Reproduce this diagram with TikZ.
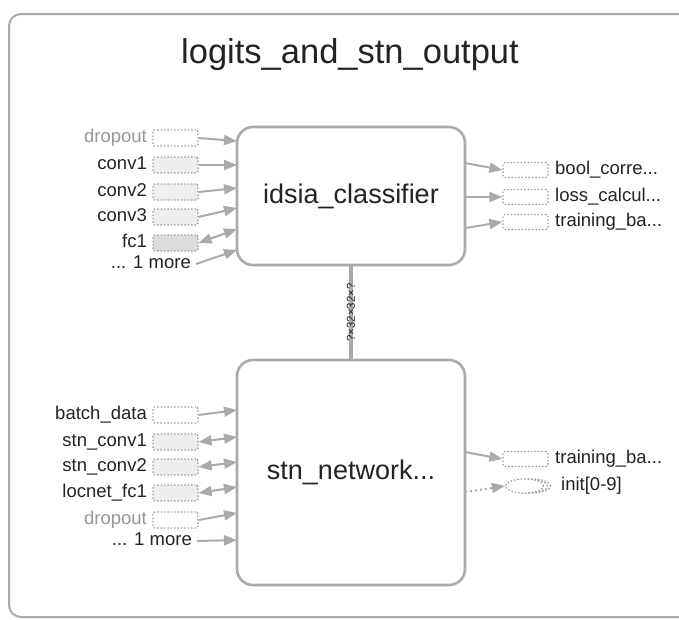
\documentclass[tikz,border=0pt]{standalone}
\usepackage{fontspec}
\setmainfont{Liberation Sans}
\usetikzlibrary{arrows.meta,shapes.geometric}
\definecolor{edgec}{RGB}{170,170,170}
\definecolor{txt}{RGB}{35,35,35}
\definecolor{faint}{RGB}{150,150,150}
\definecolor{fillA}{RGB}{238,238,238}
\definecolor{fillB}{RGB}{220,220,220}
\definecolor{dotc}{RGB}{155,155,155}
\begin{document}
\begin{tikzpicture}[x=1pt,y=-1pt,
  frame/.style={draw=edgec,line width=2pt,rounded corners=12pt},
  bigbox/.style={draw=edgec,line width=2.6pt,rounded corners=16pt,fill=white,
    font=\fontsize{27}{30}\selectfont,text=txt,minimum width=228pt,inner sep=0pt},
  ph/.style={draw=dotc,line width=1.2pt,dash pattern=on 1.5pt off 1.9pt,
    rounded corners=2pt,minimum width=45pt,minimum height=16pt,inner sep=0pt},
  serie/.style={ellipse,draw=dotc,line width=1.2pt,dash pattern=on 1.5pt off 1.9pt,
    fill=white,minimum width=38pt,minimum height=14pt,inner sep=0pt},
  lab/.style={font=\fontsize{18.5}{21}\selectfont,text=txt,inner sep=0pt,
    text height=13.5pt,text depth=4pt},
  flow/.style={draw=edgec,line width=2pt,-{Triangle[length=13pt,width=10pt]}},
  both/.style={draw=edgec,line width=2pt,{Triangle[length=13pt,width=10pt]}-{Triangle[length=13pt,width=10pt]}},
  dflow/.style={flow,dash pattern=on 2pt off 3pt},
]
\useasboundingbox (0,0) rectangle (679,619);
\clip (0,0) rectangle (679,619);
\draw[frame] (9,14) rectangle (700,617);
\node[font=\fontsize{34.5}{40}\selectfont,text=txt] (title) at (350,55) {logits\_and\_stn\_output};

% main boxes
\node[bigbox,minimum height=138pt] (idsia) at (351,196) {idsia\_classifier};
\node[bigbox,minimum height=225pt] (stn) at (351,472.5) {stn\_network...};
\draw[edgec,line width=3.2pt] (idsia.south) -- (stn.north)
  node[midway,rotate=90,font=\fontsize{11.5}{12}\selectfont,text=txt,inner sep=0pt] (shape) {?×32×32×?};

% idsia inputs
\node[ph] (p1) at (175.5,138) {};
\node[ph,fill=fillA] (p2) at (175.5,165) {};
\node[ph,fill=fillA] (p3) at (175.5,192) {};
\node[ph,fill=fillA] (p4) at (175.5,217) {};
\node[ph,fill=fillB] (p5) at (175.5,243) {};
\node[lab,anchor=east,text=faint] (l1) at (147,138) {dropout};
\node[lab,anchor=east] (l2) at (147,165) {conv1};
\node[lab,anchor=east] (l3) at (147,192) {conv2};
\node[lab,anchor=east] (l4) at (147,217) {conv3};
\node[lab,anchor=east] (l5) at (147,243) {fc1};
\node[lab,anchor=east] (l6) at (191,264) {... 1 more};
\coordinate (a1) at (237,141);
\coordinate (a2) at (237,165);
\coordinate (a3) at (237,188);
\coordinate (a4) at (237,208);
\coordinate (a5) at (237,229);
\coordinate (a6) at (237,250);
\draw[flow] (p1.east) -- (a1);
\draw[flow] (p2.east) -- (a2);
\draw[flow] (p3.east) -- (a3);
\draw[flow] (p4.east) -- (a4);
\draw[both] (p5.east) -- (a5);
\draw[flow] ([xshift=5pt]l6.east) -- (a6);

% idsia outputs
\coordinate (o1) at (465,163);
\coordinate (o2) at (465,197);
\coordinate (o3) at (465,228);
\node[ph,minimum height=15pt] (q1) at (525.5,170) {};
\node[ph,minimum height=15pt] (q2) at (525.5,197) {};
\node[ph,minimum height=15pt] (q3) at (525.5,222) {};
\node[lab,anchor=west] (r1) at (555,170) {bool\_corre...};
\node[lab,anchor=west] (r2) at (555,197) {loss\_calcul...};
\node[lab,anchor=west] (r3) at (555,222) {training\_ba...};
\draw[flow] (o1) -- (q1.west);
\draw[flow] (o2) -- (q2.west);
\draw[flow] (o3) -- (q3.west);

% stn inputs
\node[ph] (s1) at (175.5,415) {};
\node[ph,fill=fillA] (s2) at (175.5,442) {};
\node[ph,fill=fillA] (s3) at (175.5,467) {};
\node[ph,fill=fillA] (s4) at (175.5,493) {};
\node[ph] (s5) at (175.5,520) {};
\node[lab,anchor=east] (m1) at (147,415) {batch\_data};
\node[lab,anchor=east] (m2) at (147,442) {stn\_conv1};
\node[lab,anchor=east] (m3) at (147,467) {stn\_conv2};
\node[lab,anchor=east] (m4) at (147,493) {locnet\_fc1};
\node[lab,anchor=east,text=faint] (m5) at (147,520) {dropout};
\node[lab,anchor=east] (m6) at (192,541) {... 1 more};
\coordinate (b1) at (237,410);
\coordinate (b2) at (237,437);
\coordinate (b3) at (237,462);
\coordinate (b4) at (237,487);
\coordinate (b5) at (237,513);
\coordinate (b6) at (237,540);
\draw[flow] (s1.east) -- (b1);
\draw[both] (s2.east) -- (b2);
\draw[both] (s3.east) -- (b3);
\draw[both] (s4.east) -- (b4);
\draw[flow] (s5.east) -- (b5);
\draw[flow] ([xshift=5pt]m6.east) -- (b6);

% stn outputs
\coordinate (u1) at (465,452);
\coordinate (u2) at (465,492);
\node[ph,minimum height=15pt] (v1) at (525.5,459) {};
\node[serie] (v2c) at (531.5,486) {};
\node[serie] (v2b) at (528.5,486) {};
\node[serie] (v2) at (524.5,486) {};
\node[lab,anchor=west] (w1) at (555,459) {training\_ba...};
\node[lab,anchor=west] (w2) at (561,486) {init[0-9]};
\draw[flow] (u1) -- (v1.west);
\draw[dflow] (u2) -- (v2.west);
\end{tikzpicture}
\end{document}
